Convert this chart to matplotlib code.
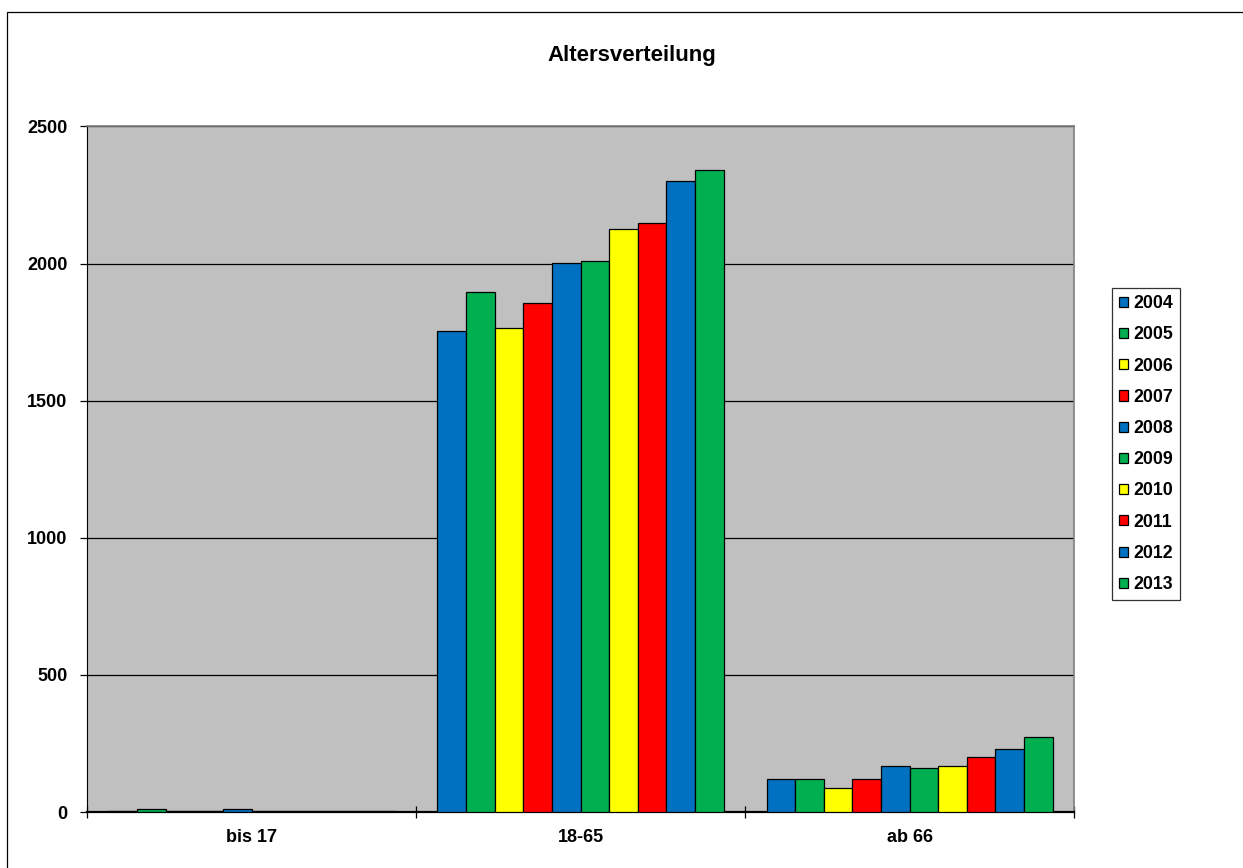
import matplotlib
matplotlib.use("Agg")
import matplotlib.pyplot as plt
from matplotlib.patches import Patch, Rectangle
import numpy as np

plt.rcParams['font.family'] = ['Liberation Sans', 'DejaVu Sans']
plt.rcParams['font.weight'] = 'bold'

# Altersgruppen und Jahrgänge
gruppen = ["bis 17", "18-65", "ab 66"]
jahre = ["2004", "2005", "2006", "2007", "2008", "2009", "2010", "2011", "2012", "2013"]

# Anzahl je Jahr (Zeilen) und Altersgruppe (Spalten)
werte = [
    [3, 1755, 120],
    [10, 1898, 120],
    [2, 1765, 89],
    [3, 1855, 120],
    [10, 2003, 168],
    [3, 2009, 162],
    [3, 2125, 168],
    [2, 2147, 200],
    [3, 2300, 231],
    [2, 2342, 274],
]

farben = ["#0070C0", "#00B050", "#FFFF00", "#FF0000"] * 3
farben = farben[:len(jahre)]

fig = plt.figure(figsize=(12.43, 8.68), dpi=100)
ax = fig.add_axes([0.0700, 0.0645, 0.7941, 0.7898])
ax.set_facecolor("#C0C0C0")

# Excel-typische Balkenbreite (Abstand 150 %)
n = len(jahre)
breite = 1.0 / (n + 1.5)
x = np.arange(len(gruppen))
for i, jahr in enumerate(jahre):
    pos = x - 0.5 + 0.75 * breite + (i + 0.5) * breite
    ax.bar(pos, werte[i], width=breite, color=farben[i], edgecolor="black",
           linewidth=0.9, zorder=3)

ax.set_xlim(-0.5, len(gruppen) - 0.5)
ax.set_ylim(0, 2500)
ax.set_yticks(np.arange(0, 2501, 500))
ax.yaxis.grid(True, color="black", linewidth=0.9, zorder=1)
ax.set_axisbelow(True)

# Striche an den Gruppengrenzen, Beschriftung in der Mitte
ax.set_xticks(np.arange(-0.5, len(gruppen), 1.0))
ax.set_xticklabels([])
ax.set_xticks(x, minor=True)
ax.set_xticklabels(gruppen, minor=True, fontsize=13, fontweight="bold")
ax.tick_params(axis="x", which="major", direction="inout", length=9, width=0.9)
ax.tick_params(axis="x", which="minor", length=0, pad=12)
ax.tick_params(axis="y", direction="out", length=5, width=0.9, pad=9,
               labelsize=13)
for lab in ax.get_yticklabels():
    lab.set_fontweight("bold")

ax.spines["left"].set_color("black")
ax.spines["bottom"].set_color("black")
ax.spines["bottom"].set_linewidth(1.6)
ax.spines["top"].set_color("#808080")
ax.spines["right"].set_color("#808080")
ax.spines["top"].set_linewidth(1.2)
ax.spines["right"].set_linewidth(1.2)

fig.text(0.5085, 0.936, "Altersverteilung", ha="center", va="center",
         fontsize=16, fontweight="bold")

handles = [Patch(facecolor=farben[i], edgecolor="black", linewidth=0.9)
           for i in range(n)]
leg = fig.legend(handles, jahre, loc="upper left",
                 bbox_to_anchor=(1112 / 1243, 1 - 288 / 868),
                 frameon=True, fancybox=False, edgecolor="black",
                 prop={"weight": "bold", "size": 12.8},
                 handlelength=0.5, handleheight=0.5, handletextpad=0.3,
                 labelspacing=0.8, borderpad=0.4, borderaxespad=0)
leg.get_frame().set_linewidth(0.9)

# Rahmen um das gesamte Diagramm
fig.patches.append(Rectangle((7 / 1243, -0.1), 1.2, 1.1 - 12 / 868,
                             transform=fig.transFigure, fill=False,
                             edgecolor="black", linewidth=0.9, clip_on=False))

fig.savefig("out.png", dpi=100)
